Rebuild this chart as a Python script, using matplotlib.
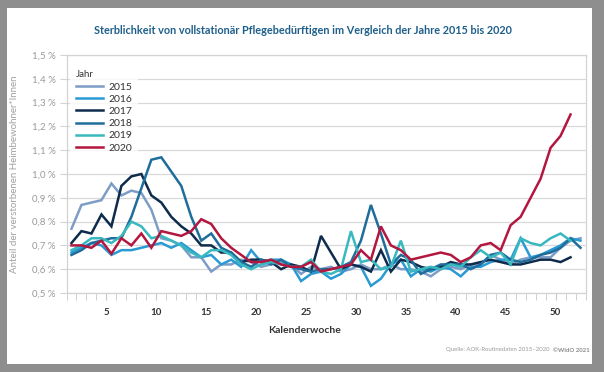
import matplotlib
matplotlib.use('Agg')
import matplotlib.pyplot as plt
from matplotlib.patches import Rectangle

plt.rcParams['font.family'] = ['Lato', 'DejaVu Sans']

# weekly share of deceased nursing home residents (%)
y2015 = [0.77, 0.87, 0.88, 0.89, 0.96, 0.91, 0.93, 0.92, 0.85, 0.73,
         0.72, 0.70, 0.65, 0.65, 0.59, 0.62, 0.62, 0.64, 0.63, 0.61,
         0.62, 0.63, 0.62, 0.58, 0.61, 0.60, 0.61, 0.59, 0.60, 0.62,
         0.60, 0.60, 0.62, 0.60, 0.60, 0.59, 0.57, 0.60, 0.61, 0.60,
         0.62, 0.62, 0.66, 0.64, 0.62, 0.64, 0.65, 0.65, 0.65, 0.69,
         0.72, 0.73]
y2016 = [0.67, 0.69, 0.71, 0.70, 0.66, 0.68, 0.68, 0.69, 0.70, 0.71,
         0.69, 0.71, 0.68, 0.65, 0.66, 0.62, 0.64, 0.61, 0.68, 0.63,
         0.64, 0.64, 0.62, 0.55, 0.58, 0.59, 0.56, 0.58, 0.62, 0.61,
         0.53, 0.56, 0.62, 0.64, 0.57, 0.60, 0.59, 0.61, 0.60, 0.57,
         0.61, 0.61, 0.63, 0.64, 0.64, 0.73, 0.65, 0.66, 0.68, 0.70,
         0.73, 0.72]
y2017 = [0.71, 0.76, 0.75, 0.83, 0.78, 0.95, 0.99, 1.00, 0.91, 0.88,
         0.82, 0.78, 0.75, 0.70, 0.70, 0.67, 0.67, 0.63, 0.64, 0.64,
         0.63, 0.60, 0.62, 0.61, 0.59, 0.74, 0.67, 0.60, 0.62, 0.61,
         0.59, 0.68, 0.59, 0.64, 0.63, 0.61, 0.60, 0.61, 0.63, 0.62,
         0.62, 0.63, 0.64, 0.63, 0.62, 0.62, 0.63, 0.64, 0.64, 0.63,
         0.65]
y2018 = [0.66, 0.68, 0.71, 0.72, 0.73, 0.73, 0.82, 0.94, 1.06, 1.07,
         1.01, 0.95, 0.82, 0.72, 0.75, 0.69, 0.67, 0.63, 0.61, 0.64,
         0.62, 0.64, 0.61, 0.60, 0.59, 0.60, 0.60, 0.61, 0.63, 0.72,
         0.87, 0.75, 0.62, 0.66, 0.64, 0.58, 0.60, 0.62, 0.62, 0.62,
         0.60, 0.62, 0.66, 0.67, 0.64, 0.63, 0.64, 0.66, 0.67, 0.69,
         0.73, 0.69]
y2019 = [0.68, 0.70, 0.73, 0.73, 0.71, 0.74, 0.80, 0.78, 0.73, 0.74,
         0.72, 0.70, 0.67, 0.65, 0.68, 0.68, 0.66, 0.62, 0.60, 0.62,
         0.63, 0.62, 0.61, 0.61, 0.64, 0.59, 0.58, 0.60, 0.76, 0.63,
         0.64, 0.60, 0.61, 0.72, 0.59, 0.60, 0.61, 0.60, 0.62, 0.61,
         0.65, 0.68, 0.65, 0.67, 0.62, 0.73, 0.71, 0.70, 0.73, 0.75,
         0.72]
y2020 = [0.70, 0.70, 0.69, 0.72, 0.665, 0.73, 0.70, 0.75, 0.69, 0.76,
         0.75, 0.74, 0.76, 0.81, 0.79, 0.73, 0.69, 0.66, 0.63, 0.63,
         0.64, 0.62, 0.61, 0.61, 0.63, 0.59, 0.60, 0.61, 0.62, 0.68,
         0.64, 0.78, 0.70, 0.68, 0.64, 0.65, 0.66, 0.67, 0.66, 0.63,
         0.65, 0.70, 0.71, 0.68, 0.785, 0.82, 0.90, 0.98, 1.11, 1.16,
         1.25]

years = ['2015', '2016', '2017', '2018', '2019', '2020']
series = [y2015, y2016, y2017, y2018, y2019, y2020]
colors = ['#7d9dc6', '#2a9ad4', '#0e2b4c', '#1f6d9b', '#38b8bf', '#b3173f']

y_ticks = [0.5, 0.6, 0.7, 0.8, 0.9, 1.0, 1.1, 1.2, 1.3, 1.4, 1.5]
y_ticklabels = ['0,5 %', '0,6 %', '0,7 %', '0,8 %', '0,9 %', '1,0 %',
                '1,1 %', '1,2 %', '1,3 %', '1,4 %', '1,5 %']
x_ticklabels = ['5', '10', '15', '20', '25', '30', '35', '40', '45', '50']

W, H = 604, 372
fig = plt.figure(figsize=(W / 100, H / 100), dpi=100, facecolor='#8e8e8e')
# white card on grey background
fig.patches.append(Rectangle((7 / W, 1 - 364 / H), 585 / W, 356 / H,
                             transform=fig.transFigure, facecolor='white',
                             edgecolor='none', zorder=-5))

ax = fig.add_axes([66.5 / W, 1 - 293 / H, 519 / W, 238 / H])
ax.set_facecolor('white')

for y, c, lab in zip(series, colors, years):
    weeks = range(1, len(y) + 1)
    ax.plot(weeks, y, color=c, lw=1.8, label=lab, solid_joinstyle='miter')

ax.set_xlim(0.5, 52.5)
ax.set_ylim(0.5, 1.5)

ax.set_yticks(y_ticks)
ax.set_yticklabels(y_ticklabels)
ax.set_xticks([int(t) - 0.5 for t in x_ticklabels])
ax.set_xticklabels(x_ticklabels)
ax.set_xticks([k + 0.5 for k in range(53)], minor=True)

ax.grid(axis='y', color='#d9d9d9', lw=0.9)
ax.set_axisbelow(True)
for s in ax.spines.values():
    s.set_color('#d3d3d3')
    s.set_linewidth(0.9)

ax.tick_params(axis='y', length=5, color='#d3d3d3', labelsize=7,
               labelcolor='#9a9a9a', pad=3)
ax.tick_params(axis='x', which='both', length=5, color='#c8c8c8',
               labelsize=7, labelcolor='#333333', pad=6)
for t in ax.get_xticklabels():
    t.set_fontweight('bold')

ax.set_ylabel('Anteil der verstorbenen Heimbewohner*Innen', fontsize=7,
              color='#a0a0a0', labelpad=9)
ax.set_xlabel('Kalenderwoche', fontsize=7.5, fontweight='bold',
              color='#333333')
ax.xaxis.set_label_coords((305 - 66.5) / 519, -0.14)

leg = ax.legend(loc='upper left', bbox_to_anchor=(0.0, 0.975), title='Jahr',
                frameon=True, fontsize=7.5, title_fontsize=7,
                handlelength=2.6, handletextpad=0.5, labelspacing=0.28,
                borderaxespad=0.3, borderpad=0.6)
leg.get_frame().set_facecolor('white')
leg.get_frame().set_edgecolor('none')
leg._legend_box.align = 'left'
for t in leg.get_texts():
    t.set_color('#333333')
leg.get_title().set_color('#333333')

fig.text(303 / W, 1 - 30 / H,
         'Sterblichkeit von vollstationär Pflegebedürftigen im Vergleich der Jahre 2015 bis 2020',
         ha='center', va='center', fontsize=7.8, fontweight='bold',
         color='#1d5f8a')

fig.text(550 / W, 1 - 350 / H, 'Quelle: AOK-Routinedaten 2015–2020',
         ha='right', va='center', fontsize=4.3, color='#9a9a9a')
fig.text(553 / W, 1 - 350 / H, '©WIdO 2021', ha='left', va='center',
         fontsize=4.3, fontweight='bold', color='#8a8a8a')

fig.savefig('out.png', dpi=100, facecolor=fig.get_facecolor())
